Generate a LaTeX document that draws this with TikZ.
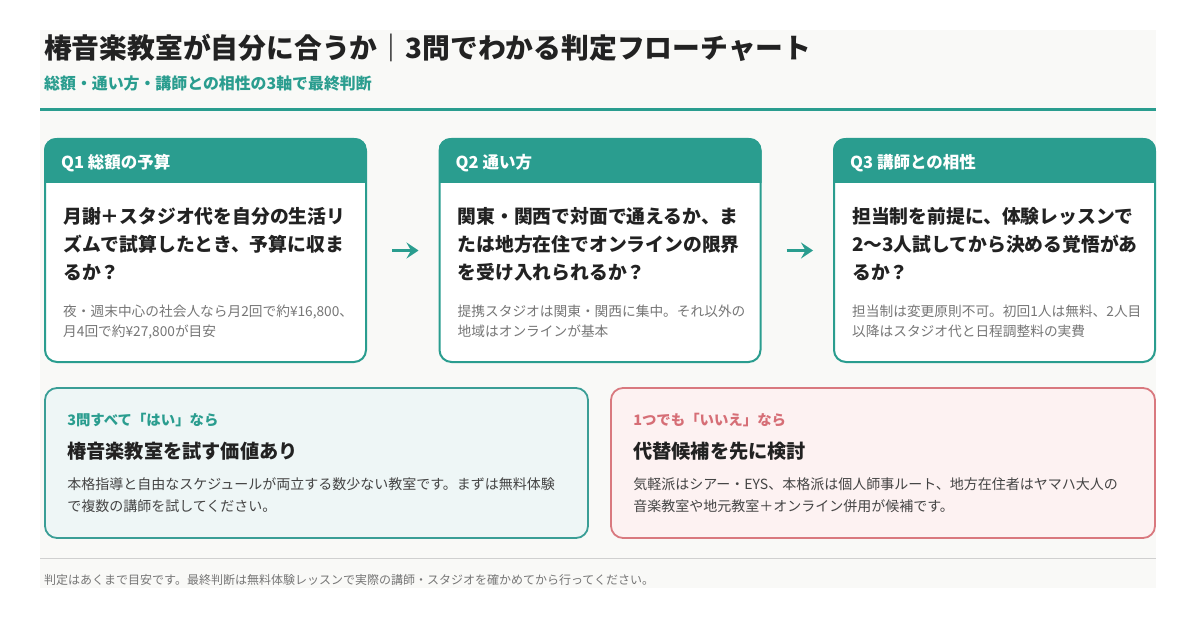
\documentclass[tikz,border=0pt]{standalone}
\usepackage{fontspec}
\setmainfont{Noto Sans CJK JP}
\usetikzlibrary{
    positioning,
    arrows.meta
}
\definecolor{brand}{RGB}{42, 157, 143}
\definecolor{ink}{RGB}{34, 34, 34}
\definecolor{hintgray}{RGB}{118, 118, 118}
\definecolor{bodygray}{RGB}{68, 68, 68}
\definecolor{panel}{RGB}{249, 249, 247}
\definecolor{rulegray}{RGB}{208, 208, 208}
\definecolor{yesline}{RGB}{58, 158, 150}
\definecolor{yesfill}{RGB}{238, 246, 246}
\definecolor{noline}{RGB}{217, 121, 127}
\definecolor{nofill}{RGB}{253, 242, 242}
\definecolor{notext}{RGB}{214, 110, 118}

\begin{document}
\begin{tikzpicture}[
    x=1pt, y=-1pt,
    card/.style={rectangle, draw=brand, fill=white, line width=2pt, rounded corners=12pt,
                 minimum width=321pt, minimum height=223pt, inner sep=0pt},
    qhead/.style={anchor=west, inner sep=0pt, text=white, font=\fontsize{16.5}{19}\selectfont\bfseries},
    qtext/.style={anchor=north west, inner sep=0pt, align=left, text=ink,
                  font=\fontsize{18.8}{28}\selectfont\bfseries},
    qnote/.style={anchor=north west, inner sep=0pt, align=left, text=hintgray,
                  font=\fontsize{13.7}{20}\selectfont},
    result/.style={rectangle, draw=#1line, fill=#1fill, line width=1.8pt, rounded corners=12pt,
                   minimum width=543pt, minimum height=150pt, inner sep=0pt},
    rlabel/.style={anchor=west, inner sep=0pt, font=\fontsize{14.4}{17}\selectfont\bfseries},
    rtitle/.style={anchor=west, inner sep=0pt, text=ink, font=\fontsize{19.2}{23}\selectfont\bfseries},
    rbody/.style={anchor=north west, inner sep=0pt, align=left, text=bodygray,
                  font=\fontsize{14}{22}\selectfont},
    flow/.style={-{Stealth[length=12pt, width=16pt, inset=4.5pt]}, line width=3.6pt, draw=brand,
                 shorten <=25pt, shorten >=20pt}
]
\useasboundingbox (0,0) rectangle (1197,620);

% Background panel
\fill[panel] (40,30) rectangle (1156,588);

% ============================================
% TITLE
% ============================================
\node[anchor=west, inner sep=0pt, text=ink, font=\fontsize{27.8}{32}\selectfont\bfseries] (title) at (44,47.5)
    {椿音楽教室が自分に合うか｜3問でわかる判定フローチャート};
\node[anchor=west, inner sep=0pt, text=brand, font=\fontsize{15.9}{18}\selectfont\bfseries] (subtitle) at (44,83.5)
    {総額・通い方・講師との相性の3軸で最終判断};
\draw[brand, line width=3pt] (40,109.5) -- (1156,109.5);

% ============================================
% QUESTION CARDS
% ============================================
\node[card] (q1) at (205.5,250.5) {};
\node[card] (q2) at (600,250.5) {};
\node[card] (q3) at (994.5,250.5) {};

% Teal header strips
\foreach \q in {q1, q2, q3} {
    \begin{scope}
        \clip[rounded corners=12pt] (\q.south west) rectangle (\q.north east);
        \fill[brand] (\q.north west) rectangle ([yshift=-45pt]\q.north east);
    \end{scope}
}

\node[qhead] (q1h) at ([xshift=17pt, yshift=-25pt]q1.north west) {Q1 総額の予算};
\node[qhead] (q2h) at ([xshift=17pt, yshift=-25pt]q2.north west) {Q2 通い方};
\node[qhead] (q3h) at ([xshift=17pt, yshift=-25pt]q3.north west) {Q3 講師との相性};

\node[qtext] (q1t) at ([xshift=19pt, yshift=-69pt]q1.north west)
    {月謝＋スタジオ代を自分の生活リ\\ズムで試算したとき、予算に収ま\\るか？};
\node[qtext] (q2t) at ([xshift=19pt, yshift=-69pt]q2.north west)
    {関東・関西で対面で通えるか、ま\\たは地方在住でオンラインの限界\\を受け入れられるか？};
\node[qtext] (q3t) at ([xshift=19pt, yshift=-69pt]q3.north west)
    {担当制を前提に、体験レッスンで\\2〜3人試してから決める覚悟があ\\るか？};

\node[qnote] (q1n) at ([xshift=19pt, yshift=-167pt]q1.north west)
    {夜・週末中心の社会人なら月2回で約¥16,800、\\月4回で約¥27,800が目安};
\node[qnote] (q2n) at ([xshift=19pt, yshift=-167pt]q2.north west)
    {提携スタジオは関東・関西に集中。それ以外の\\地域はオンラインが基本};
\node[qnote] (q3n) at ([xshift=19pt, yshift=-167pt]q3.north west)
    {担当制は変更原則不可。初回1人は無料、2人目\\以降はスタジオ代と日程調整料の実費};

% Arrows between cards
\draw[flow] (q1) -- (q2);
\draw[flow] (q2) -- (q3);

% ============================================
% RESULTS
% ============================================
\node[result=yes] (yes) at (316.5,463) {};
\node[result=no, minimum width=544pt] (no) at (883,463) {};

\node[rlabel, text=brand] (yesl) at ([xshift=23pt, yshift=-33pt]yes.north west) {3問すべて「はい」なら};
\node[rtitle] (yest) at ([xshift=23pt, yshift=-64.5pt]yes.north west) {椿音楽教室を試す価値あり};
\node[rbody] (yesb) at ([xshift=23pt, yshift=-90.5pt]yes.north west)
    {本格指導と自由なスケジュールが両立する数少ない教室です。まずは無料体験\\で複数の講師を試してください。};

\node[rlabel, text=notext] (nol) at ([xshift=23pt, yshift=-33pt]no.north west) {1つでも「いいえ」なら};
\node[rtitle] (not) at ([xshift=23pt, yshift=-64.5pt]no.north west) {代替候補を先に検討};
\node[rbody] (nob) at ([xshift=23pt, yshift=-90.5pt]no.north west)
    {気軽派はシアー・EYS、本格派は個人師事ルート、地方在住者はヤマハ大人の\\音楽教室や地元教室＋オンライン併用が候補です。};

% ============================================
% FOOTER
% ============================================
\draw[rulegray, line width=1pt] (40,558) -- (1156,558);
\node[anchor=west, inner sep=0pt, text=hintgray, font=\fontsize{12}{14}\selectfont] (foot) at (44,580)
    {判定はあくまで目安です。最終判断は無料体験レッスンで実際の講師・スタジオを確かめてから行ってください。};

\end{tikzpicture}
\end{document}
